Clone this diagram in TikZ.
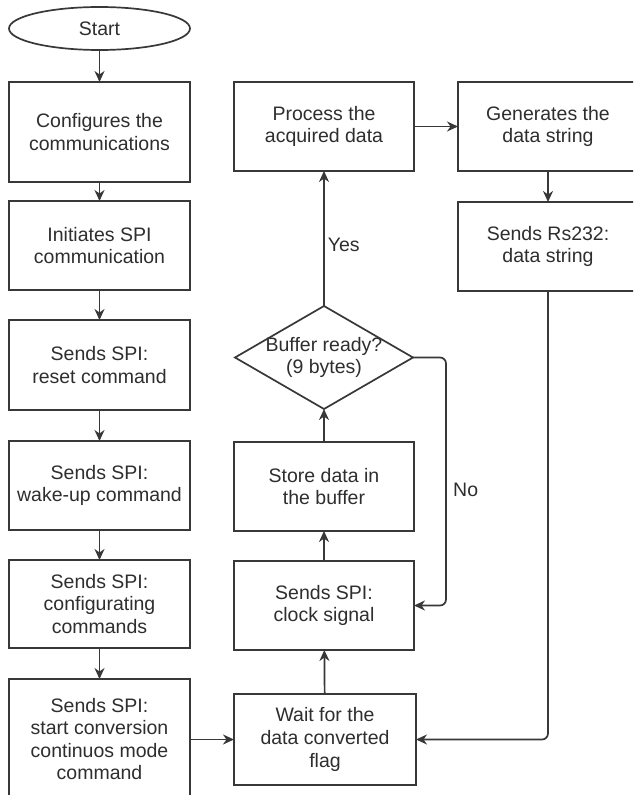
\documentclass[tikz,border=0pt]{standalone}
\usepackage{fontspec}
\setmainfont{Liberation Sans}
\usetikzlibrary{arrows.meta,shapes.geometric}
\definecolor{linec}{HTML}{383838}
\definecolor{textc}{HTML}{2E2E2E}
\tikzset{
  every node/.style={text=textc, font=\fontsize{19.5}{22.6}\selectfont},
  box/.style={draw=linec, line width=1.7pt, fill=white, rectangle, align=center,
    inner sep=0pt, outer sep=0pt, minimum width=181pt, minimum height=89pt},
  terminal/.style={draw=linec, line width=1.7pt, fill=white, ellipse, inner sep=0pt,
    outer sep=0pt, minimum width=181pt, minimum height=43pt},
  decisionbox/.style={rectangle, align=center, inner sep=0pt, outer sep=0pt,
    minimum width=178pt, minimum height=103pt},
  arr/.style={draw=linec, line width=1.7pt,
    -{Stealth[length=11pt, width=10pt, inset=3.5pt]}},
  lbl/.style={anchor=west, inner sep=0pt}
}
\begin{document}
\begin{tikzpicture}[x=1pt, y=-1pt]
\useasboundingbox (0,0) rectangle (633,795);
\clip (0,0) rectangle (633,795);
\fill[white] (0,0) rectangle (633,795);

% left column: initialisation sequence
\node[terminal] (start) at (99.5,28.5) {Start};
\node[box, minimum height=100pt] (b1) at (99.5,132) {Configures the\\communications};
\node[box] (b2) at (99.5,245.5) {Initiates SPI\\communication};
\node[box, minimum height=90pt] (b3) at (99.5,365) {Sends SPI:\\reset command};
\node[box] (b4) at (99.5,485.5) {Sends SPI:\\wake-up command};
\node[box, minimum height=88pt] (b5) at (99.5,604) {Sends SPI:\\configurating\\commands};
\node[box, minimum height=120pt] (b6) at (99.5,739) {Sends SPI:\\start conversion\\continuos mode\\command};

% middle column: acquisition loop
\node[box, minimum width=182pt, minimum height=91pt] (wait) at (325,739.5) {Wait for the\\data converted\\flag};
\node[box, minimum width=180pt] (clock) at (324,605.5) {Sends SPI:\\clock signal};
\node[box, minimum width=180pt] (store) at (324,486.5) {Store data in\\the buffer};
\node[decisionbox] (dia) at (324,357.5) {Buffer ready?\\(9 bytes)};
\draw[draw=linec, line width=1.7pt] (dia.west) -- (dia.north) -- (dia.east) -- (dia.south) -- cycle;
\node[box, minimum width=180pt] (proc) at (324,126.5) {Process the\\acquired data};

% right column: output
\node[box, minimum width=180pt] (gen) at (548,126.5) {Generates the\\data string};
\node[box, minimum width=180pt] (rs) at (548,246.5) {Sends Rs232:\\data string};

% connectors
\draw[arr] (start) -- (b1);
\draw[arr] (b1) -- (b2);
\draw[arr] (b2) -- (b3);
\draw[arr] (b3) -- (b4);
\draw[arr] (b4) -- (b5);
\draw[arr] (b5) -- (b6);
\draw[arr] (b6.east |- wait.west) -- (wait.west);
\draw[arr] (wait) -- (clock);
\draw[arr] (clock) -- (store);
\draw[arr] (store) -- (dia.south);
\draw[arr] (dia.north) -- node[lbl, pos=0.45, xshift=3pt] (yes) {Yes} (proc);
\draw[arr, rounded corners=6pt] (dia.east) -- ++(33,0) coordinate (nocorner) |- (clock.east);
\node[lbl] (no) at (453,490) {No};
\draw[arr] (proc) -- (gen);
\draw[arr] (gen) -- (rs);
\draw[arr, rounded corners=6pt] (rs.south) |- (wait.east);
\end{tikzpicture}
\end{document}
